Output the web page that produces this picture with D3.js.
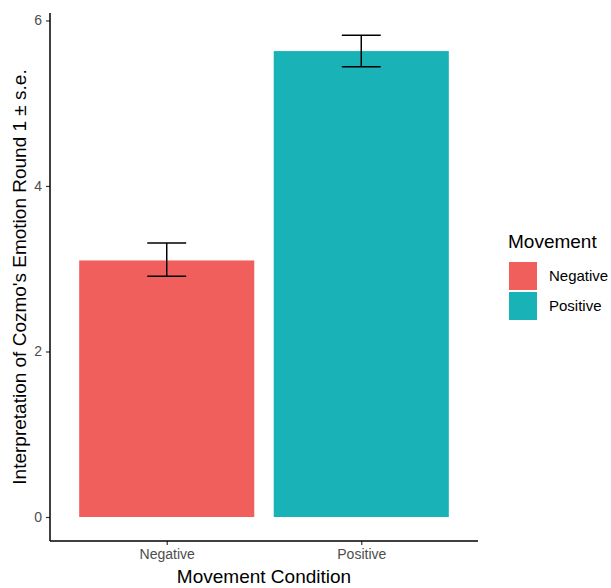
<!DOCTYPE html>
<html>
<head>
<meta charset="utf-8">
<script src="https://cdn.jsdelivr.net/npm/d3@7"></script>
<style>
  body { margin: 0; background: #fff; }
  text { font-family: "Liberation Sans", Arial, sans-serif; }
</style>
</head>
<body>
<script>
// data
var conditions = ["Negative", "Positive"];
var means = [3.10, 5.63];
var lower = [2.91, 5.44];
var upper = [3.31, 5.82];
var yTicks = [0, 2, 4, 6];
var colors = ["#F15F5D", "#19B2B7"];

var width = 611, height = 588;
var panel = {left: 50, right: 478, top: 13, bottom: 541};

var svg = d3.select("body").append("svg")
    .attr("width", width)
    .attr("height", height);

// discrete x scale with ggplot style expansion (0.6 units each side)
var xScale = d3.scaleLinear()
    .domain([0.4, conditions.length + 0.6])
    .range([panel.left, panel.right]);

var yScale = d3.scaleLinear()
    .domain([-0.29, 6.09])
    .range([panel.bottom, panel.top]);

var data = conditions.map(function(c, i) {
  return {cond: c, pos: i + 1, mean: means[i], lo: lower[i], hi: upper[i], color: colors[i]};
});

// bars
svg.selectAll(".bar")
   .data(data)
   .enter().append("rect")
   .attr("class", "bar")
   .attr("x", function(d) { return xScale(d.pos - 0.45); })
   .attr("width", function(d) { return xScale(d.pos + 0.45) - xScale(d.pos - 0.45); })
   .attr("y", function(d) { return yScale(d.mean); })
   .attr("height", function(d) { return yScale(0) - yScale(d.mean); })
   .attr("fill", function(d) { return d.color; });

// error bars
var eb = svg.selectAll(".err")
   .data(data)
   .enter().append("g")
   .attr("class", "err")
   .attr("stroke", "#000")
   .attr("stroke-width", 1.5);

eb.append("line")
  .attr("x1", function(d) { return xScale(d.pos); })
  .attr("x2", function(d) { return xScale(d.pos); })
  .attr("y1", function(d) { return yScale(d.lo); })
  .attr("y2", function(d) { return yScale(d.hi); });
eb.append("line")
  .attr("x1", function(d) { return xScale(d.pos - 0.1); })
  .attr("x2", function(d) { return xScale(d.pos + 0.1); })
  .attr("y1", function(d) { return yScale(d.hi); })
  .attr("y2", function(d) { return yScale(d.hi); });
eb.append("line")
  .attr("x1", function(d) { return xScale(d.pos - 0.1); })
  .attr("x2", function(d) { return xScale(d.pos + 0.1); })
  .attr("y1", function(d) { return yScale(d.lo); })
  .attr("y2", function(d) { return yScale(d.lo); });

// axes
var yAxis = d3.axisLeft(yScale).tickValues(yTicks).tickFormat(d3.format("d"))
    .tickSize(4).tickPadding(4);
var gy = svg.append("g")
    .attr("transform", "translate(" + panel.left + ",0)")
    .call(yAxis);
gy.select(".domain").remove();
gy.append("line")
  .attr("x1", 0).attr("x2", 0)
  .attr("y1", panel.top).attr("y2", panel.bottom)
  .attr("stroke", "#000").attr("stroke-width", 1.5);
gy.selectAll(".tick line").attr("stroke", "#333").attr("stroke-width", 1.2);
gy.selectAll(".tick text")
  .attr("fill", "#4D4D4D")
  .style("font-size", "14px");

var xAxis = d3.axisBottom(xScale)
    .tickValues(data.map(function(d) { return d.pos; }))
    .tickFormat(function(v) { return conditions[v - 1]; })
    .tickSize(4).tickPadding(4);
var gx = svg.append("g")
    .attr("transform", "translate(0," + panel.bottom + ")")
    .call(xAxis);
gx.select(".domain").remove();
gx.append("line")
  .attr("x1", panel.left).attr("x2", panel.right)
  .attr("y1", 0).attr("y2", 0)
  .attr("stroke", "#000").attr("stroke-width", 1.5);
gx.selectAll(".tick line").attr("stroke", "#333").attr("stroke-width", 1.2);
gx.selectAll(".tick text")
  .attr("fill", "#4D4D4D")
  .style("font-size", "14px");

// axis titles
svg.append("text")
   .attr("x", (panel.left + panel.right) / 2)
   .attr("y", 583)
   .attr("text-anchor", "middle")
   .style("font-size", "19px")
   .text("Movement Condition");

svg.append("text")
   .attr("transform", "translate(26," + 277 + ") rotate(-90)")
   .attr("text-anchor", "middle")
   .style("font-size", "19px")
   .text("Interpretation of Cozmo's Emotion Round 1 \u00b1 s.e.");

// legend
var legend = svg.append("g").attr("transform", "translate(508,0)");
legend.append("text")
   .attr("x", 0).attr("y", 248)
   .style("font-size", "19px")
   .text("Movement");

var items = legend.selectAll(".legend")
   .data(data)
   .enter().append("g")
   .attr("class", "legend")
   .attr("transform", function(d, i) { return "translate(1," + (262 + i * 30) + ")"; });
items.append("rect")
   .attr("width", 28).attr("height", 28)
   .attr("fill", function(d) { return d.color; });
items.append("text")
   .attr("x", 40).attr("y", 19)
   .style("font-size", "15px")
   .text(function(d) { return d.cond; });
</script>
</body>
</html>
